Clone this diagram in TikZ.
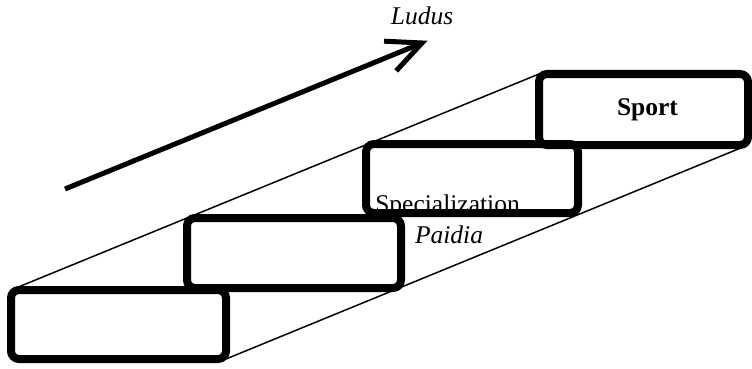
\documentclass[tikz,border=0pt]{standalone}
\usepackage{fontspec}
\setmainfont{Liberation Serif}
\usetikzlibrary{calc}
\begin{document}
\begin{tikzpicture}[x=1pt,y=-1pt,
  stepbox/.style={draw, line width=8pt, rounded corners=8pt,
    minimum width=213pt, minimum height=70pt, inner sep=0pt, outer sep=0pt},
  rail/.style={line width=1.5pt},
  steptext/.style={font=\fontsize{25.5}{30}\selectfont, inner sep=0pt, anchor=base},
  shaft/.style={line width=5pt, line join=miter}]
\useasboundingbox (0,0) rectangle (752,369);

% the four steps
\node[stepbox, minimum width=215pt, minimum height=69pt] (b1) at (118.5,324.5) {};
\node[stepbox, minimum width=214pt, minimum height=70pt] (b2) at (294,253) {};
\node[stepbox, minimum width=212pt, minimum height=69pt] (b3) at (472,178.5) {};
\node[stepbox, minimum width=209pt, minimum height=71pt] (b4) at (643.5,109.5) {};

% side rails of the staircase
\draw[rail] (b1.north west) -- (b4.north west);
\draw[rail] (b1.south east) -- (b4.south east);

% rising arrow
\coordinate (a0) at (65,189);
\coordinate (a1) at (422,43);
\draw[shaft] (a0) -- (a1);
\draw[shaft] ($(a1)!38pt!25:(a0)$) -- (a1) -- ($(a1)!38pt!-25:(a0)$);

% labels
\node[steptext] (ludus) at (422,25) {\itshape Ludus};
\node[steptext] (sport) at (647.5,115) {\bfseries Sport};
\node[steptext] (spec) at (447.5,212) {Specialization};
\node[steptext] (paidia) at (449,243) {\itshape Paidia};
\end{tikzpicture}
\end{document}
